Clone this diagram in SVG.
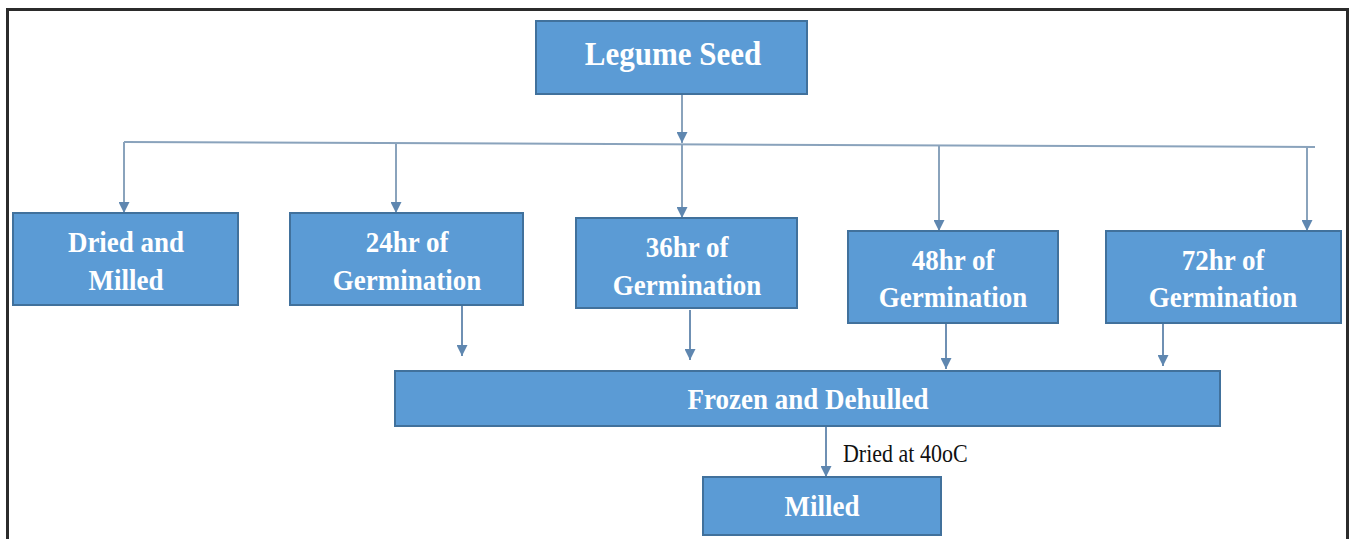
<svg xmlns="http://www.w3.org/2000/svg" width="1352" height="539" viewBox="0 0 1352 539">
  <style>
    .box { fill: #5b9bd5; stroke: #41719c; stroke-width: 2; }
    .lbl { font-family: "Liberation Serif", "Times New Roman", serif; font-weight: bold; fill: #ffffff; text-anchor: middle; font-size: 27px; }
    .big { font-size: 31px; }
    .note { font-family: "Liberation Serif", "Times New Roman", serif; fill: #111111; font-size: 22px; }
    .conn { stroke: #8aa3bc; stroke-width: 2; fill: none; }
    .conn2 { stroke: #6f90b3; stroke-width: 2; fill: none; }
  </style>
  <defs>
    <marker id="ah" viewBox="0 0 10 10" refX="10" refY="5" markerWidth="11" markerHeight="11" markerUnits="userSpaceOnUse" orient="auto">
      <path d="M0,0 L10,5 L0,10 Z" fill="#5f87b0"/>
    </marker>
  </defs>
  <rect x="0" y="0" width="1352" height="539" fill="#ffffff"/>
  <rect id="frame" x="7.5" y="9.5" width="1340" height="540" fill="none" stroke="#2b2b2b" stroke-width="3"/>

  <g id="connectors">
    <line class="conn" x1="682" y1="95" x2="682" y2="143" marker-end="url(#ah)"/>
    <line class="conn" x1="124" y1="142" x2="1315" y2="147"/>
    <line class="conn" x1="124" y1="142" x2="124" y2="213" marker-end="url(#ah)"/>
    <line class="conn" x1="396" y1="143" x2="396" y2="213" marker-end="url(#ah)"/>
    <line class="conn" x1="682" y1="144" x2="682" y2="218" marker-end="url(#ah)"/>
    <line class="conn" x1="939" y1="146" x2="939" y2="231" marker-end="url(#ah)"/>
    <line class="conn" x1="1307" y1="147" x2="1307" y2="231" marker-end="url(#ah)"/>
    <line class="conn2" x1="462" y1="306" x2="462" y2="356" marker-end="url(#ah)"/>
    <line class="conn2" x1="690" y1="310" x2="690" y2="360" marker-end="url(#ah)"/>
    <line class="conn2" x1="946" y1="324" x2="946" y2="369" marker-end="url(#ah)"/>
    <line class="conn2" x1="1163" y1="324" x2="1163" y2="366" marker-end="url(#ah)"/>
    <line class="conn2" x1="826" y1="427" x2="826" y2="477" marker-end="url(#ah)"/>
    <text class="note" transform="matrix(1,0,0,1.15,843,462)">Dried at 40oC</text>
  </g>

  <g id="legume-seed">
    <rect class="box" x="536" y="21" width="271" height="73"/>
    <text class="lbl big" transform="matrix(1,0,0,1.08,673,65)">Legume Seed</text>
  </g>
  <g id="dried-milled">
    <rect class="box" x="13" y="213" width="225" height="92"/>
    <text class="lbl" transform="matrix(1,0,0,1.08,126,252)">Dried and</text>
    <text class="lbl" transform="matrix(1,0,0,1.08,126,290)">Milled</text>
  </g>
  <g id="g24">
    <rect class="box" x="290" y="213" width="233" height="92"/>
    <text class="lbl" transform="matrix(1,0,0,1.08,407,252)">24hr of</text>
    <text class="lbl" transform="matrix(1,0,0,1.08,407,290)">Germination</text>
  </g>
  <g id="g36">
    <rect class="box" x="576" y="218" width="221" height="90"/>
    <text class="lbl" transform="matrix(1,0,0,1.08,687,257)">36hr of</text>
    <text class="lbl" transform="matrix(1,0,0,1.08,687,295)">Germination</text>
  </g>
  <g id="g48">
    <rect class="box" x="848" y="231" width="210" height="92"/>
    <text class="lbl" transform="matrix(1,0,0,1.08,953,270)">48hr of</text>
    <text class="lbl" transform="matrix(1,0,0,1.08,953,307)">Germination</text>
  </g>
  <g id="g72">
    <rect class="box" x="1106" y="231" width="235" height="92"/>
    <text class="lbl" transform="matrix(1,0,0,1.08,1223,270)">72hr of</text>
    <text class="lbl" transform="matrix(1,0,0,1.08,1223,307)">Germination</text>
  </g>
  <g id="frozen-dehulled">
    <rect class="box" x="395" y="371" width="825" height="55"/>
    <text class="lbl" transform="matrix(1,0,0,1.08,808,409)">Frozen and Dehulled</text>
  </g>
  <g id="milled">
    <rect class="box" x="703" y="477" width="238" height="58"/>
    <text class="lbl" transform="matrix(1,0,0,1.08,822,516)">Milled</text>
  </g>
</svg>
